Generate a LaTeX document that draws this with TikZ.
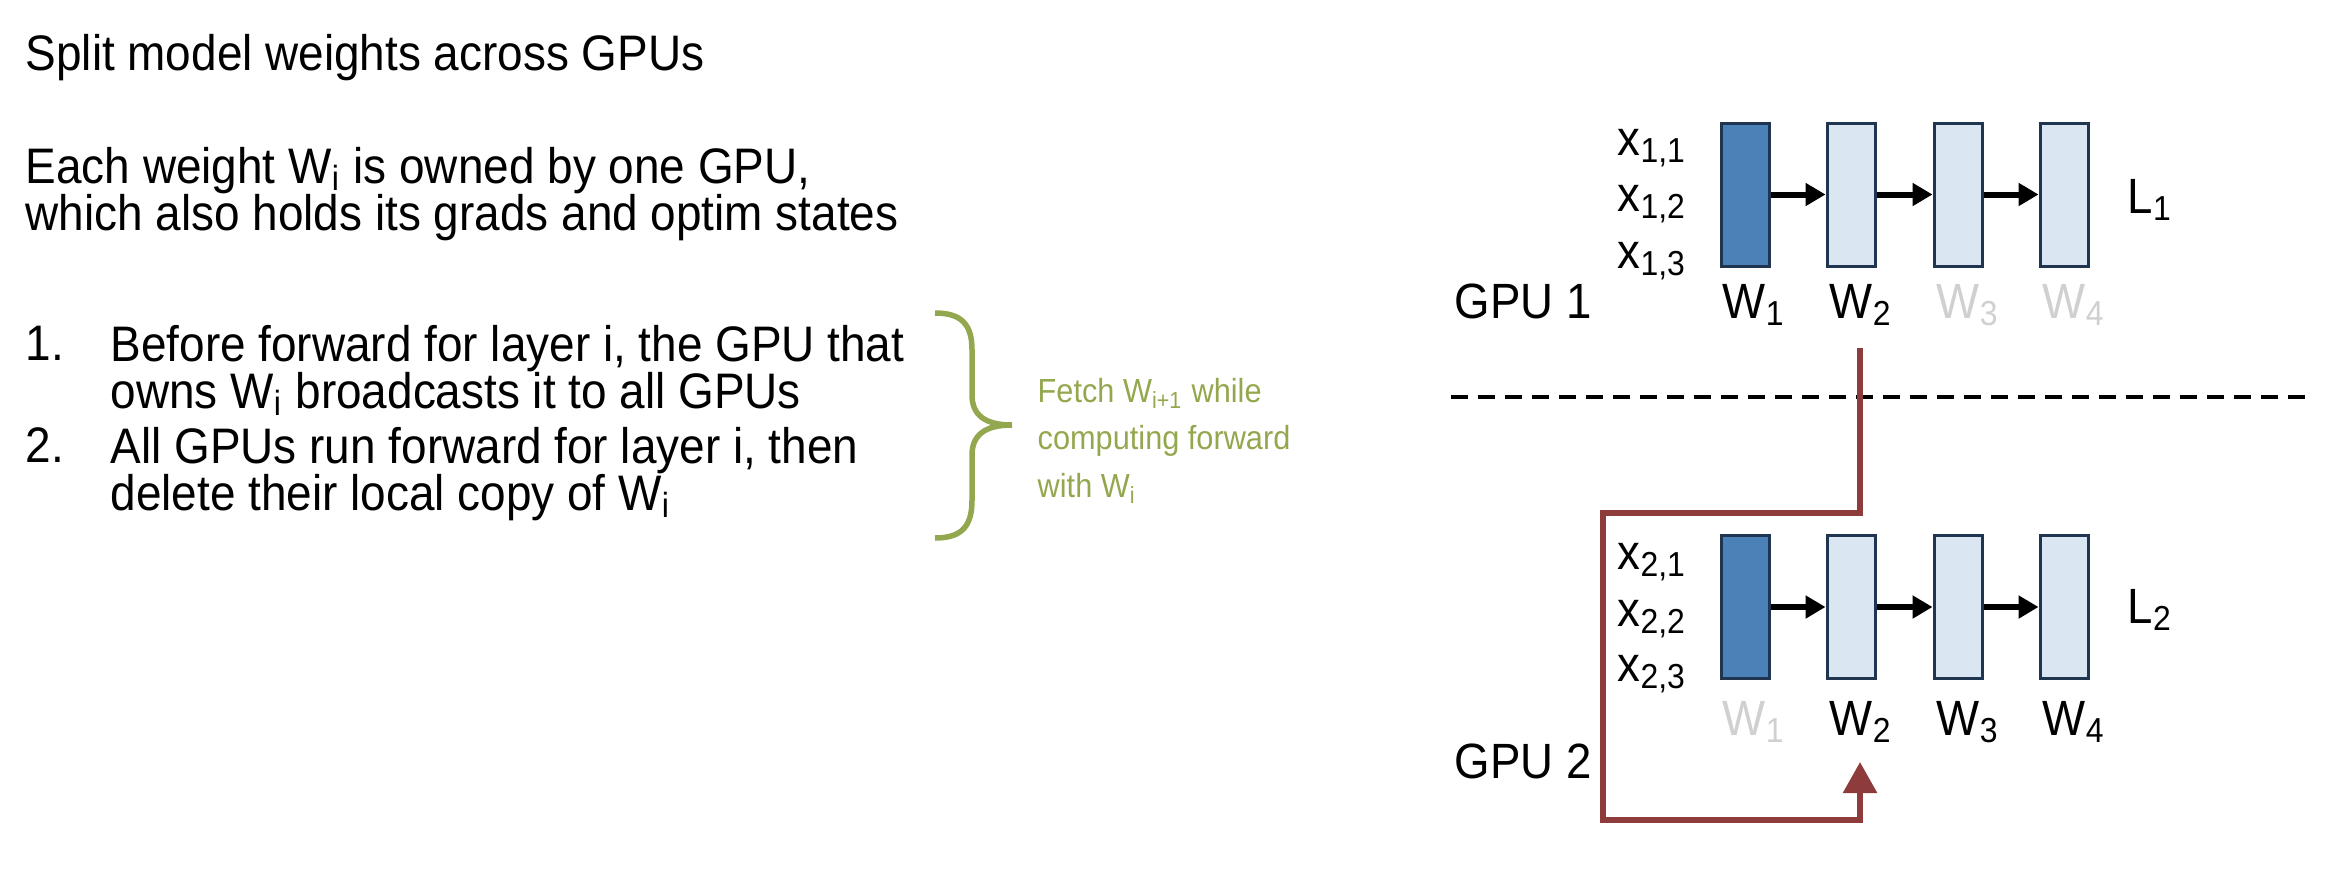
\documentclass[tikz,border=0pt]{standalone}
\usepackage{fontspec}
\setmainfont[FakeStretch=0.92]{Liberation Sans}
\usetikzlibrary{arrows.meta}
\definecolor{boxdark}{HTML}{4A81B7}
\definecolor{boxlight}{HTML}{DAE6F1}
\definecolor{boxborder}{HTML}{1F3550}
\definecolor{fetchred}{HTML}{8E3B3B}
\definecolor{bracegreen}{HTML}{93A84E}
\definecolor{faded}{HTML}{D0D0D0}
\newcommand{\paratight}{\fontsize{14.2}{13.36}\selectfont\lineskiplimit=-100pt\relax}
\tikzset{
  txt/.style={inner sep=0pt, anchor=base west, font=\fontsize{14.2}{16}\selectfont},
  para/.style={inner sep=0pt, anchor=base west, align=left, font=\paratight},
  lbl/.style={inner sep=0pt, anchor=base west, font=\fontsize{14.1}{16}\selectfont},
  gtxt/.style={inner sep=0pt, anchor=base west, text=bracegreen, font=\fontsize{9.5}{12}\selectfont},
  wbox/.style={draw=boxborder, line width=0.3mm, minimum width=4.8mm, minimum height=14.3mm, inner sep=0pt},
  darkbox/.style={wbox, fill=boxdark},
  lightbox/.style={wbox, fill=boxlight},
  flow/.style={line width=0.6mm, -{Triangle[length=2mm,width=2.2mm]}},
  fetch/.style={draw=fetchred, line width=0.58mm, -{Triangle[length=3.1mm,width=3.3mm]}},
  sep/.style={line width=0.45mm, dash pattern=on 1.7mm off 1mm},
  bracestyle/.style={draw=bracegreen, line width=0.55mm}
}
\begin{document}
\begin{tikzpicture}[x=0.1mm,y=-0.1mm]
\useasboundingbox (0,0) rectangle (2340,868);
% left text (para nodes: base anchor = last line's baseline)
\node[txt] (t0) at (25,71) {Split model weights across GPUs};
\node[para] (t1) at (25,230) {Each weight W\textsubscript{i} is owned by one GPU,\\which also holds its grads and optim states};
\node[txt] (n1) at (25,360) {1.};
\node[para] (i1) at (110,408) {Before forward for layer i, the GPU that\\owns W\textsubscript{i} broadcasts it to all GPUs};
\node[txt] (n2) at (25,462) {2.};
\node[para] (i2) at (110,510) {All GPUs run forward for layer i, then\\delete their local copy of W\textsubscript{i}};
% brace
\draw[bracestyle] (935,313) .. controls (962,313) and (972,325) .. (972,350) -- (972,395)
  .. controls (972,415) and (985,425) .. (1012,425)
  .. controls (985,425) and (972,435) .. (972,455) -- (972,500)
  .. controls (972,526) and (962,538) .. (935,538);
\node[gtxt] (g1) at (1037,402) {Fetch W\textsubscript{i+1} while};
\node[gtxt] (g2) at (1037,449) {computing forward};
\node[gtxt] (g3) at (1037,497) {with W\textsubscript{i}};
% GPU 1
\node[darkbox] (a1) at (1745,194.5) {};
\node[lightbox] (a2) at (1851,194.5) {};
\node[lightbox] (a3) at (1958,194.5) {};
\node[lightbox] (a4) at (2064,194.5) {};
\draw[flow] (a1.east) -- (a2.west);
\draw[flow] (a2.east) -- (a3.west);
\draw[flow] (a3.east) -- (a4.west);
\node[lbl] (x11) at (1617,155) {x\textsubscript{1,1}};
\node[lbl] (x12) at (1617,211) {x\textsubscript{1,2}};
\node[lbl] (x13) at (1617,268) {x\textsubscript{1,3}};
\node[lbl] (l1) at (2127,213) {L\textsubscript{1}};
\node[lbl] (gpu1) at (1454,318) {GPU 1};
\node[lbl] (wa1) at (1722,318) {W\textsubscript{1}};
\node[lbl] (wa2) at (1829,318) {W\textsubscript{2}};
\node[lbl, text=faded] (wa3) at (1936,318) {W\textsubscript{3}};
\node[lbl, text=faded] (wa4) at (2042,318) {W\textsubscript{4}};
% separator
\coordinate (sl) at (1451,397);
\coordinate (sr) at (2310,397);
\draw[sep] (sl) -- (sr);
% GPU 2
\node[darkbox] (b1) at (1745,607) {};
\node[lightbox] (b2) at (1851,607) {};
\node[lightbox] (b3) at (1958,607) {};
\node[lightbox] (b4) at (2064,607) {};
\draw[flow] (b1.east) -- (b2.west);
\draw[flow] (b2.east) -- (b3.west);
\draw[flow] (b3.east) -- (b4.west);
\node[lbl] (x21) at (1617,569) {x\textsubscript{2,1}};
\node[lbl] (x22) at (1617,626) {x\textsubscript{2,2}};
\node[lbl] (x23) at (1617,681) {x\textsubscript{2,3}};
\node[lbl] (l2) at (2127,623) {L\textsubscript{2}};
\node[lbl] (gpu2) at (1454,778) {GPU 2};
\node[lbl, text=faded] (wb1) at (1722,735) {W\textsubscript{1}};
\node[lbl] (wb2) at (1829,735) {W\textsubscript{2}};
\node[lbl] (wb3) at (1936,735) {W\textsubscript{3}};
\node[lbl] (wb4) at (2042,735) {W\textsubscript{4}};
% fetch path
\coordinate (rs) at (1860,348);
\coordinate (rt) at (1860,762);
\draw[fetch] (rs) -- (1860,513) -- (1603,513) -- (1603,820) -- (1860,820) -- (rt);
\end{tikzpicture}
\end{document}
